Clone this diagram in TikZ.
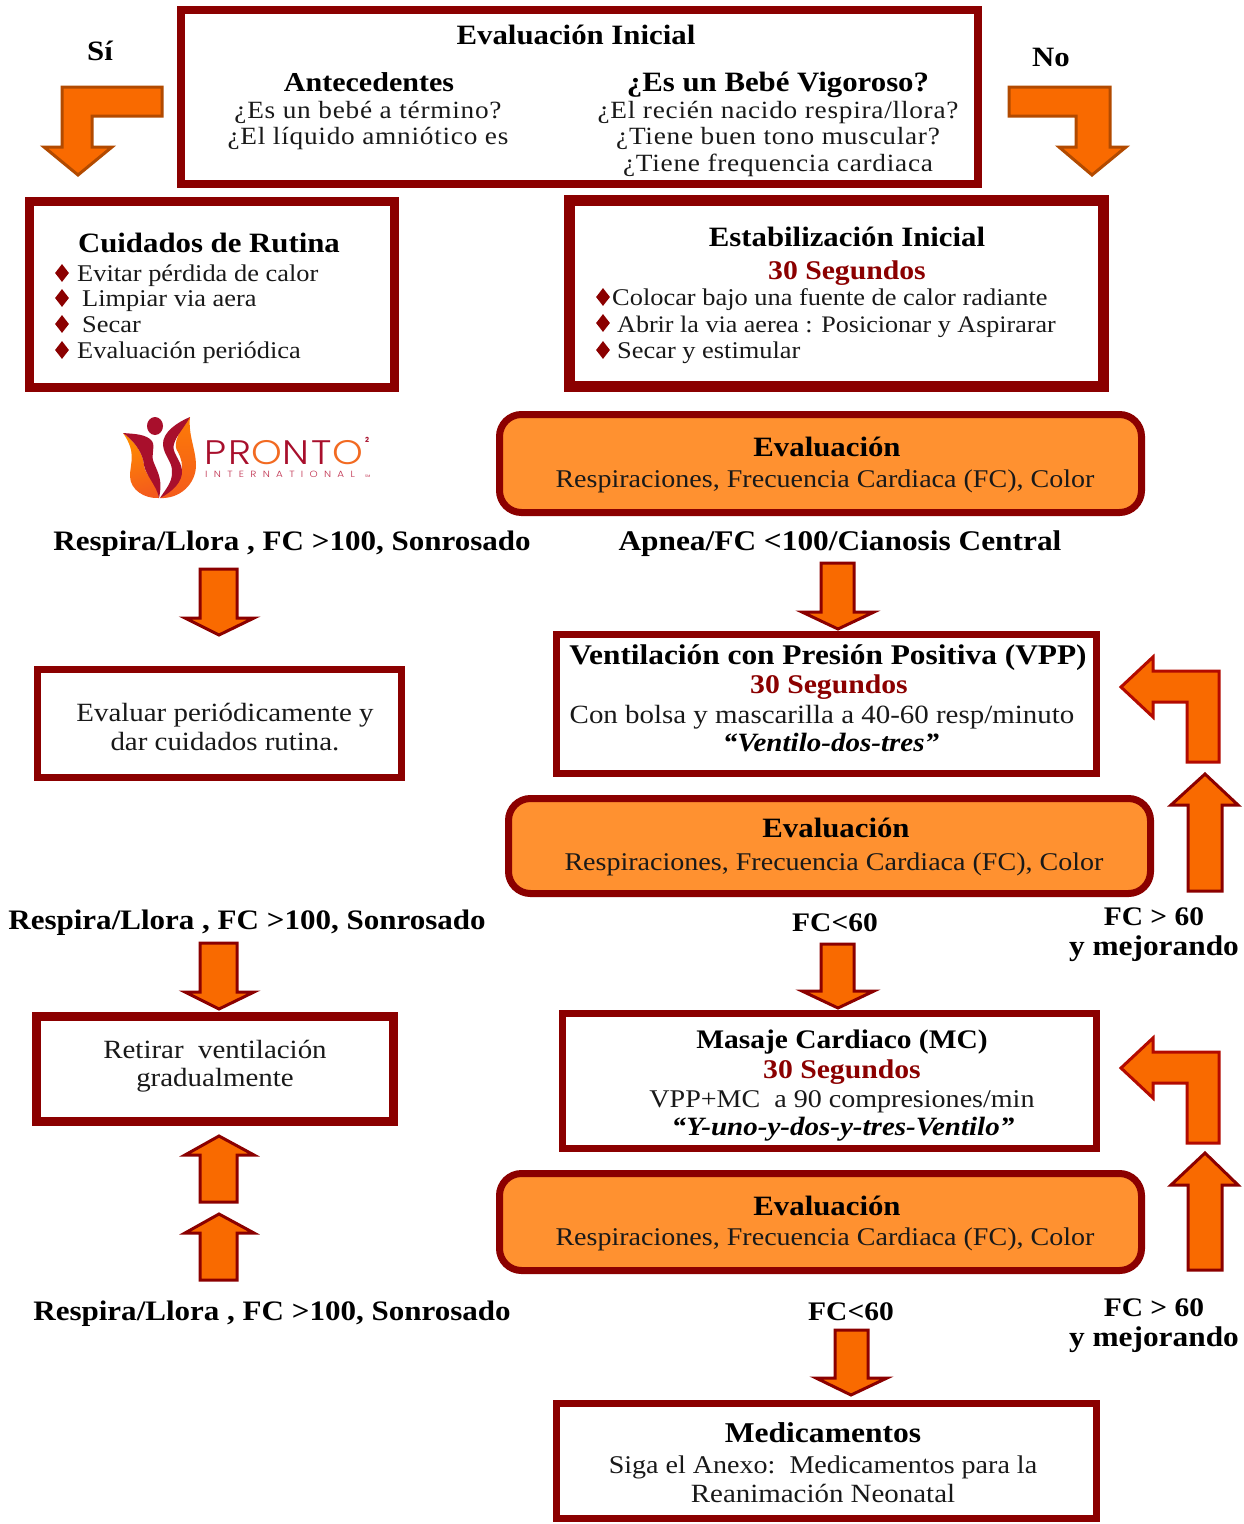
\documentclass[tikz,border=0pt]{standalone}
\usepackage{fontspec}
\setmainfont[FakeStretch=1.1]{Liberation Serif}
\newfontfamily\logofont[FakeStretch=1.15]{Poppins Light}
\newfontfamily\logofontb{Poppins}
\usetikzlibrary{shapes.geometric}
\definecolor{bordo}{HTML}{8B0000}
\definecolor{naranja}{HTML}{FF9130}
\definecolor{flecha}{HTML}{F96A00}
\definecolor{flechab}{HTML}{B24A00}
\definecolor{flechac}{HTML}{B30A00}
\definecolor{logoa}{HTML}{A80F2C}
\definecolor{logob}{HTML}{F26A21}
\definecolor{logoc}{HTML}{C0304E}
\newcommand\bx[7][]{% name x1 y1 x2 y2 stroke
 \pgfmathsetmacro\bxw{#5-#3-#7}\pgfmathsetmacro\bxh{#6-#4-#7}
 \pgfmathsetmacro\bxx{(#3+#5)/2}\pgfmathsetmacro\bxy{(#4+#6)/2}
 \node[#1,line width=#7pt,minimum width=\bxw pt,minimum height=\bxh pt] (#2) at (\bxx,\bxy) {};}
\newcommand\fsz[1]{\fontsize{#1}{#1}\selectfont}
\tikzset{
 x=1pt,y=-1pt,
 wbox/.style={draw=bordo,fill=white,rectangle,inner sep=0,outer sep=0},
 obox/.style={draw=bordo,fill=naranja,rectangle,rounded corners=22pt,inner sep=0,outer sep=0},
 bt/.style={anchor=base,inner sep=0,text=black,font=\fsz{28}\bfseries},
 nt/.style={anchor=base,inner sep=0,text=black!90,font=\fsz{25.5}},
 ntb/.style={anchor=base,inner sep=0,text=black!90,font=\fsz{26.3}},
 st/.style={nt,font=\fsz{24.8}\addfontfeature{LetterSpace=3}},
 lt/.style={nt,anchor=base west,font=\fsz{24}},
 rt/.style={bt,text=bordo,font=\fsz{27}\bfseries},
 it/.style={bt,font=\fsz{26.4}\bfseries\itshape},
 fc/.style={bt,font=\fsz{26.8}\bfseries},
 resp/.style={bt,font=\fsz{28.2}\bfseries},
 dia/.style={diamond,fill=bordo,inner sep=0,minimum width=14pt,minimum height=18pt},
 barrow/.style={draw=flechac,fill=flecha,line width=3pt,line join=miter},
 sarrow/.style={draw=flechab,fill=flecha,line width=3pt,line join=miter},
 uarrow/.style={draw=bordo,fill=flecha,line width=3pt,line join=miter},
}
\begin{document}
\begin{tikzpicture}
\path[fill=white,use as bounding box] (0,0) rectangle (1244,1524);
% boxes
\bx[wbox]{top}{177}{6}{982}{188}{8}
\bx[wbox]{cuid}{25}{197}{399}{392}{9}
\bx[wbox]{esta}{564}{195}{1109}{392}{11}
\bx[obox]{evala}{496}{411}{1145}{516}{7}
\bx[wbox]{perio}{34}{666}{405}{781}{7}
\bx[wbox]{vpp}{553}{631}{1100}{777}{7}
\bx[obox]{evalb}{505}{795}{1154}{897}{7}
\bx[wbox]{reti}{32}{1012}{398}{1126}{9}
\bx[wbox]{masa}{559}{1010}{1100}{1152}{7}
\bx[obox]{evalc}{496}{1170}{1145}{1274}{7}
\bx[wbox]{medi}{553}{1400}{1100}{1522}{7}
% block arrows
\draw[sarrow] (162,87) -- (62,87) -- (62,147) -- (44,147) -- (78,175) -- (112,147) -- (92,147) -- (92,116) -- (162,116) -- cycle;
\draw[sarrow] (1009,87) -- (1110,87) -- (1110,147) -- (1126,147) -- (1092,175) -- (1059,147) -- (1076,147) -- (1076,116) -- (1009,116) -- cycle;
\foreach \a/\b/\c/\d/\e/\f/\g/\h in {200/237/569/618/185/254/635/219, 821/854/563/612/802/874/629/838, 200/237/943/992/185/254/1009/219, 821/854/944/991/802/874/1008/838, 835/868/1330/1378/816/887/1395/851}{
 \draw[uarrow] (\a,\c) -- (\a,\d) -- (\e,\d) -- (\h,\g) -- (\f,\d) -- (\b,\d) -- (\b,\c) -- cycle;
}
\foreach \a/\b/\c/\d/\e/\f/\g/\h in {200/237/1202/1155/185/254/1136/219, 200/237/1280/1233/185/254/1214/219, 1188/1222/891/805/1171/1238/774/1205, 1188/1222/1270/1185/1171/1238/1153/1205}{
 \draw[uarrow] (\a,\c) -- (\a,\d) -- (\e,\d) -- (\h,\g) -- (\f,\d) -- (\b,\d) -- (\b,\c) -- cycle;
}
\foreach \o in {0,381}{
 \begin{scope}[yshift=-\o pt]
 \draw[barrow] (1219,671) -- (1219,762) -- (1187,762) -- (1187,702) -- (1153,702) -- (1153,717) -- (1121,687) -- (1153,657) -- (1153,671) -- cycle;
 \end{scope}
}
% top
\node[bt] (t1) at (576,44) {Evaluación Inicial};
\node[bt,font=\fsz{27.3}\bfseries] (t2) at (369,91.5) {Antecedentes};
\node[st] (t3) at (368,118) {¿Es un bebé a término?};
\node[st] (t4) at (368,144) {¿El líquido amniótico es};
\node[bt] (t5) at (778,91.5) {¿Es un Bebé Vigoroso?};
\node[st] (t6) at (778,118) {¿El recién nacido respira/llora?};
\node[st] (t7) at (778,144) {¿Tiene buen tono muscular?};
\node[st] (t8) at (778,171) {¿Tiene frequencia cardiaca};
\node[bt] (si) at (100,60) {Sí};
\node[bt] (no) at (1051,66.5) {No};
% cuidados
\node[bt] (c0) at (209,252) {Cuidados de Rutina};
\node[lt] (c1) at (77,281) {Evitar pérdida de calor};
\node[lt] (c2) at (82,306) {Limpiar via aera};
\node[lt] (c3) at (82,332) {Secar};
\node[lt] (c4) at (77,358) {Evaluación periódica};
\node[dia] (cd1) at (62,273) {};
\node[dia] (cd2) at (62,298) {};
\node[dia] (cd3) at (62,324) {};
\node[dia] (cd4) at (62,350) {};
% estabilizacion
\node[bt] (e0) at (847,246) {Estabilización Inicial};
\node[rt] (e1) at (847,279) {30 Segundos};
\node[lt] (e2) at (612,305) {Colocar bajo una fuente de calor radiante};
\node[lt,font=\fsz{23.7}] (e3) at (617,332) {Abrir la via aerea : Posicionar y Aspirarar};
\node[lt] (e4) at (617,358) {Secar y estimular};
\node[dia] (ed1) at (603,297) {};
\node[dia] (ed2) at (603,323) {};
\node[dia] (ed3) at (603,350) {};
% evaluacion
\node[bt] (a1) at (827,456) {Evaluación};
\node[nt] (a2) at (825,487) {Respiraciones, Frecuencia Cardiaca (FC), Color};
\node[resp] (r1) at (292,550) {Respira/Llora , FC >100, Sonrosado};
\node[resp,font=\fsz{28.5}\bfseries] (r2) at (840,550) {Apnea/FC <100/Cianosis Central};
% vpp
\node[bt,font=\fsz{28.5}\bfseries] (v1) at (828,664) {Ventilación con Presión Positiva (VPP)};
\node[rt] (v2) at (829,693) {30 Segundos};
\node[ntb] (v3) at (822,723) {Con bolsa y mascarilla a 40-60 resp/minuto};
\node[it] (v4) at (831,751) {“Ventilo-dos-tres”};
\node[ntb] (p1) at (225,721) {Evaluar periódicamente y};
\node[ntb] (p2) at (225,750) {dar cuidados rutina.};
\node[bt] (b1) at (836,837) {Evaluación};
\node[nt] (b2) at (834,870) {Respiraciones, Frecuencia Cardiaca (FC), Color};
\node[resp] (r3) at (247,929) {Respira/Llora , FC >100, Sonrosado};
\node[fc] (f1) at (835,931) {FC<60};
\node[fc] (f2) at (1154,925) {FC > 60};
\node[resp,font=\fsz{28.5}\bfseries] (f3) at (1154,955) {y mejorando};
% masaje
\node[ntb] (g1) at (215,1058) {Retirar\ \ ventilación};
\node[ntb] (g2) at (215,1086) {gradualmente};
\node[fc] (m1) at (842,1048) {Masaje Cardiaco (MC)};
\node[rt] (m2) at (842,1078) {30 Segundos};
\node[nt] (m3) at (842,1107) {VPP+MC\ \ a 90 compresiones/min};
\node[it] (m4) at (843,1135) {“Y-uno-y-dos-y-tres-Ventilo”};
\node[bt] (d1) at (827,1215) {Evaluación};
\node[nt] (d2) at (825,1245) {Respiraciones, Frecuencia Cardiaca (FC), Color};
\node[resp] (r4) at (272,1320) {Respira/Llora , FC >100, Sonrosado};
\node[fc] (f4) at (851,1320) {FC<60};
\node[fc] (f5) at (1154,1316) {FC > 60};
\node[resp,font=\fsz{28.5}\bfseries] (f6) at (1154,1346) {y mejorando};
\node[bt,font=\fsz{28.7}\bfseries] (x1) at (823,1442) {Medicamentos};
\node[nt] (x2) at (823,1473) {Siga el Anexo:\ \ Medicamentos para la};
\node[ntb] (x3) at (823,1502) {Reanimación Neonatal};
% logo
\path[top color=orange!90!yellow,bottom color=logob!85!red,shading angle=15]
 (123,433) .. controls (133,440) and (143,452) .. (144,465) .. controls (145,476) and (157,482) .. (159,498)
 .. controls (145,499) and (130,490) .. (130,476) .. controls (130,463) and (137,453) .. (123,433) -- cycle;
\path[top color=orange!80!logob,bottom color=logob!85!red]
 (190,417) .. controls (174,437) and (174,447) .. (178,452) .. controls (184,464) and (187,480) .. (160,498)
 .. controls (180,499) and (196,484) .. (196,465) .. controls (196,450) and (188,435) .. (190,417) -- cycle;
\fill[logoa] (123,433) .. controls (135,434) and (146,434) .. (152,441) .. controls (156,448) and (150,455) .. (154,463)
 .. controls (158,473) and (163,480) .. (159,498) .. controls (157,486) and (146,476) .. (144,465)
 .. controls (143,452) and (133,440) .. (123,433) -- cycle;
\fill[logoa] (190,417) .. controls (178,422) and (162,432) .. (163,445) .. controls (164,456) and (173,462) .. (172,473)
 .. controls (172,483) and (165,490) .. (160,498) .. controls (172,492) and (183,482) .. (182,470)
 .. controls (181,460) and (171,452) .. (174,444) .. controls (176,436) and (184,428) .. (190,417) -- cycle;
\fill[logoa] (155,426) ellipse (8pt and 9pt);
\node[anchor=base west,inner sep=0,text depth=0pt,font=\logofont\fsz{34}\addfontfeature{LetterSpace=7.5}] (lg1) at (204,464) {\textcolor{logoa}{PR}\textcolor{logob}{O}\textcolor{logoa}{NT}\textcolor{logob}{O}};
\node[anchor=base west,inner sep=0,text height=6pt,text depth=0pt,text=logoc,font=\logofont\fsz{9}\addfontfeature{LetterSpace=70}] (lg2) at (205,477) {INTERNATIONAL};
\node[anchor=base west,inner sep=0,text=logoa,font=\logofontb\fsz{7}\bfseries] (lg3) at (365,442) {2};
\node[anchor=base west,inner sep=0,text=logoc,font=\logofontb\fsz{3.5}] (lg4) at (365,477) {SM};
\end{tikzpicture}
\end{document}
